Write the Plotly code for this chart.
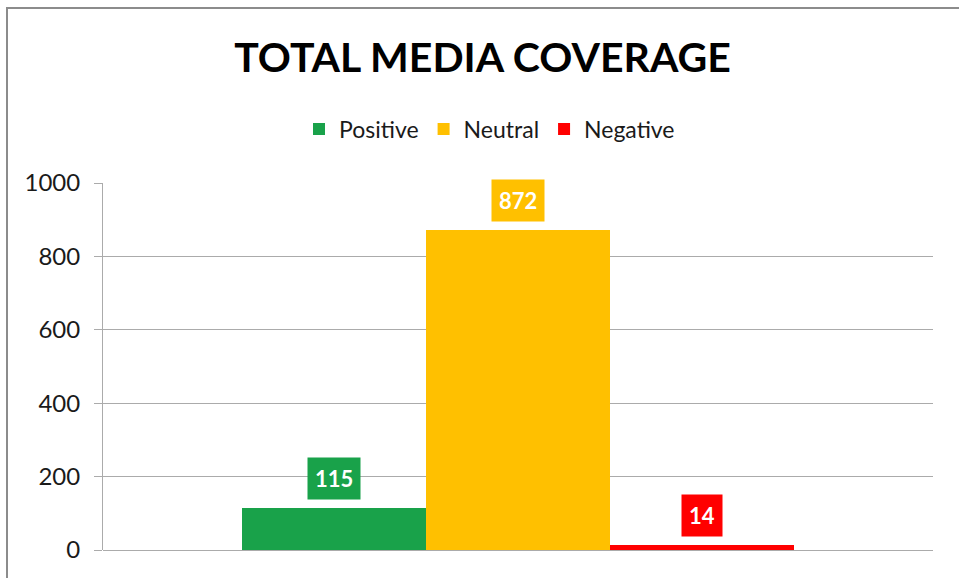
import plotly.graph_objects as go

# Media coverage counts by sentiment
categories = ["Positive", "Neutral", "Negative"]
values = [115, 872, 14]
colors = ["#19A24A", "#FFC000", "#FF0000"]

y_ticks = [0, 200, 400, 600, 800, 1000]

FONT = "Lato"
GRID = "#ABABAB"

fig = go.Figure()
for cat, val, col in zip(categories, values, colors):
    fig.add_trace(go.Bar(
        x=[cat], y=[val], name=cat,
        marker=dict(color=col, line=dict(width=0)),
        hoverinfo="skip",
    ))
    # value label in a filled box just above the bar
    fig.add_annotation(
        x=cat, y=val, xref="x", yref="y",
        text=f"<b>{val}</b>", showarrow=False,
        yanchor="bottom", yshift=8,
        font=dict(family=FONT, size=22, color="white"),
        bgcolor=col, borderpad=7,
    )

# chart frame
fig.add_shape(
    type="rect", xref="paper", yref="paper",
    x0=(7 - 103) / 830, x1=(975 - 103) / 830,
    y0=-(600 - 550.5) / 368, y1=1 + (182.5 - 7) / 368,
    line=dict(color="#8C8C8C", width=2), fillcolor="rgba(0,0,0,0)", layer="below",
)

fig.update_layout(
    width=959, height=578,
    margin=dict(l=103, r=26, t=182.5, b=27.5, pad=0),
    paper_bgcolor="white", plot_bgcolor="white",
    barmode="group", bargap=0, bargroupgap=0,
    title=dict(
        text="<b>TOTAL MEDIA COVERAGE</b>",
        x=482.5 / 959, xref="container", xanchor="center",
        y=1 - 58 / 578, yref="container", yanchor="middle",
        font=dict(family=FONT, size=41, color="black"),
    ),
    showlegend=True,
    legend=dict(
        orientation="h", x=489.5 / 959, xref="container", xanchor="center",
        y=1 - 129 / 578, yref="container", yanchor="middle",
        font=dict(family=FONT, size=23, color="#1a1a1a"),
        bgcolor="rgba(0,0,0,0)", itemclick=False, itemdoubleclick=False,
        itemwidth=30,
    ),
    xaxis=dict(
        type="category", categoryorder="array", categoryarray=categories,
        range=[-1.258, 3.258], showticklabels=False, ticks="",
        showgrid=False, showline=False, zeroline=False, fixedrange=True,
    ),
    yaxis=dict(
        range=[0, 1000], tickvals=y_ticks,
        tickfont=dict(family=FONT, size=24, color="#1a1a1a"),
        showgrid=True, gridcolor=GRID, gridwidth=1,
        zeroline=True, zerolinecolor=GRID, zerolinewidth=1,
        showline=True, linecolor=GRID, linewidth=1,
        ticks="outside", ticklen=8, tickcolor=GRID, ticklabelstandoff=9,
        fixedrange=True,
    ),
)

fig.write_html("out.html", config={"displayModeBar": False})
